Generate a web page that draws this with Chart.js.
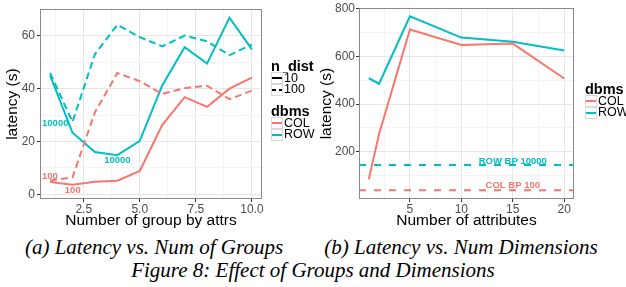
<!DOCTYPE html>
<html>
<head>
<meta charset="utf-8">
<script src="https://cdn.jsdelivr.net/npm/chart.js@4"></script>
<style>
    html, body { margin: 0; padding: 0; background: #fff; }
    #page { position: relative; width: 626px; height: 287px; overflow: hidden; background: #fff; }
    canvas { position: absolute; top: 0; }
    .legend { position: absolute; font-family: "Liberation Sans", Arial, sans-serif; color: #000; }
    .lg-title { position: absolute; font-weight: bold; font-size: 14.5px; line-height: 15px; white-space: nowrap; }
    .lg-row { position: absolute; height: 12px; white-space: nowrap; }
    .lg-row svg { position: absolute; left: 0; top: 0; }
    .lg-row span { position: absolute; left: 13px; top: -1.5px; font-size: 12.5px; line-height: 15px; }
    .caption { position: absolute; font-family: "Liberation Serif", "Times New Roman", serif; font-style: italic;
               font-size: 21px; line-height: 21px; white-space: nowrap; transform: translateX(-50%); color: #000; }
</style>
</head>
<body>
<div id="page">
    <canvas id="groupsChart" width="313" height="232" style="left:0px"></canvas>
    <canvas id="attrsChart" width="313" height="232" style="left:313px"></canvas>

    <div class="legend" id="legendGroups" style="left:271px; top:0px"></div>
    <div class="legend" id="legendAttrs" style="left:585px; top:0px"></div>

    <div class="caption" style="left:154px; top:237px">(a) Latency vs. Num of Groups</div>
    <div class="caption" style="left:461px; top:237px">(b) Latency vs. Num Dimensions</div>
    <div class="caption" style="left:313px; top:260px">Figure 8: Effect of Groups and Dimensions</div>
</div>

<script>
// -------------------------------------------------
//  DATA — panel (a): latency vs. number of group-by attrs
// -------------------------------------------------
const groupCounts = [1, 2, 3, 4, 5, 6, 7, 8, 9, 10];
const rowLat10    = [45.0, 23.3, 16.0, 14.8, 20.2, 41.2, 55.7, 49.5, 66.9, 54.9];
const rowLat100   = [46.0, 27.4, 53.1, 64.2, 59.5, 56.0, 60.1, 57.9, 52.7, 56.7];
const colLat10    = [4.6, 3.6, 4.7, 5.1, 8.8, 26.2, 36.8, 33.1, 40.0, 44.2];
const colLat100   = [5.2, 6.4, 31.1, 45.9, 42.8, 38.0, 40.2, 41.1, 36.0, 39.3];

const groupTicksX = [2.5, 5, 7.5, 10];
const groupTicksY = [0, 20, 40, 60];
const groupMinorX = [1.25, 3.75, 6.25, 8.75];
const groupMinorY = [10, 30, 50];

// text marks drawn inside panel (a)
const groupNoteText = ["10000", "10000", "100", "100"];
const groupNoteDbms = ["ROW", "ROW", "COL", "COL"];
const groupNoteX    = [1.23, 4.0, 0.99, 2.01];
const groupNoteY    = [26.7, 13.0, 6.7, 1.6];

// -------------------------------------------------
//  DATA — panel (b): latency vs. number of attributes
// -------------------------------------------------
const attrCounts  = [1, 2, 5, 10, 15, 20];
const colLatAttrs = [85, 275, 712, 647, 653, 507];
const rowLatAttrs = [508, 485, 767, 678, 661, 624];
const rowBP10000  = 145;
const colBP100    = 40;

const attrTicksX = [5, 10, 15, 20];
const attrTicksY = [200, 400, 600, 800];
const attrMinorX = [2.5, 7.5, 12.5, 17.5];
const attrMinorY = [100, 300, 500, 700];

const attrNoteText = ["ROW BP 10000", "COL BP 100"];
const attrNoteDbms = ["ROW", "COL"];
const attrNoteX    = [15, 15];
const attrNoteY    = [160, 61];

// -------------------------------------------------
//  STİL
// -------------------------------------------------
const COLORS = { COL: "#F8766D", ROW: "#00BFC4" };
const SANS = '"Liberation Sans", Arial, sans-serif';

const groupRange = { xMin: 0.55, xMax: 10.45, yMin: -1.8, yMax: 70.1 };
const attrRange  = { xMin: 0.05, xMax: 20.95, yMin: 3, yMax: 801 };

function toPoints(xs, ys) {
    return xs.map((x, i) => ({ x, y: ys[i] }));
}

// -------------------------------------------------
//  PLUGINS: panel border + text notes
// -------------------------------------------------
const panelBorder = {
    id: "panelBorder",
    afterDraw(chart) {
        const { ctx, chartArea: a } = chart;
        ctx.save();
        ctx.strokeStyle = "#8a8a8a";
        ctx.lineWidth = 1;
        ctx.strokeRect(Math.round(a.left) + 0.5, Math.round(a.top) + 0.5,
                       Math.round(a.right - a.left) - 1, Math.round(a.bottom - a.top) - 1);
        ctx.restore();
    }
};

function notesPlugin(texts, dbms, xs, ys) {
    return {
        id: "notes",
        afterDatasetsDraw(chart) {
            const { ctx, scales } = chart;
            ctx.save();
            ctx.font = "bold 9.5px " + SANS;
            ctx.textAlign = "center";
            ctx.textBaseline = "middle";
            texts.forEach((t, i) => {
                ctx.fillStyle = COLORS[dbms[i]];
                ctx.fillText(t, scales.x.getPixelForValue(xs[i]), scales.y.getPixelForValue(ys[i]));
            });
            ctx.restore();
        }
    };
}

// -------------------------------------------------
//  SCALE HELPERS
// -------------------------------------------------
function makeAxis(opts) {
    const { min, max, major, minor, fmt, title, size, titlePad, tickPad } = opts;
    const isMajor = v => major.includes(v);
    return {
        type: "linear",
        min, max,
        afterBuildTicks: s => {
            s.ticks = [...minor, ...major].sort((a, b) => a - b).map(v => ({ value: v }));
        },
        afterFit: s => {
            if (s.isHorizontal()) s.height = size; else s.width = size;
        },
        ticks: {
            autoSkip: false,
            maxRotation: 0,
            padding: tickPad,
            color: "#4d4d4d",
            font: { family: SANS, size: 12 },
            callback: v => isMajor(v) ? fmt(v) : ""
        },
        grid: {
            color: c => (c.tick && isMajor(c.tick.value)) ? "#e6e6e6" : "#f4f4f4",
            tickColor: c => (c.tick && isMajor(c.tick.value)) ? "#333" : "rgba(0,0,0,0)",
            tickLength: 3,
            lineWidth: 1
        },
        border: { display: false },
        title: {
            display: true,
            text: title,
            color: "#000",
            font: { family: SANS, size: 15.5 },
            padding: titlePad
        }
    };
}

function lineSet(label, points, color, dash) {
    return {
        label,
        data: points,
        borderColor: color,
        backgroundColor: color,
        borderWidth: 2,
        borderDash: dash || [],
        pointRadius: 0,
        tension: 0,
        fill: false
    };
}

// -------------------------------------------------
//  PANEL (a)
// -------------------------------------------------
new Chart(document.getElementById("groupsChart"), {
    type: "line",
    data: {
        datasets: [
            lineSet("COL 100", toPoints(groupCounts, colLat100), COLORS.COL, [7, 4]),
            lineSet("ROW 100", toPoints(groupCounts, rowLat100), COLORS.ROW, [7, 4]),
            lineSet("COL 10",  toPoints(groupCounts, colLat10),  COLORS.COL),
            lineSet("ROW 10",  toPoints(groupCounts, rowLat10),  COLORS.ROW)
        ]
    },
    options: {
        responsive: false,
        animation: false,
        devicePixelRatio: 1,
        layout: { padding: { top: 5, right: 51, left: 0, bottom: 0 } },
        plugins: { legend: { display: false }, tooltip: { enabled: false } },
        scales: {
            x: makeAxis({ min: groupRange.xMin, max: groupRange.xMax, major: groupTicksX, minor: groupMinorX,
                          fmt: v => v.toFixed(1), title: "Number of group by attrs", size: 33,
                          titlePad: { top: 0, bottom: 2 }, tickPad: 0 }),
            y: makeAxis({ min: groupRange.yMin, max: groupRange.yMax, major: groupTicksY, minor: groupMinorY,
                          fmt: v => String(v), title: "latency (s)", size: 40,
                          titlePad: { top: 3, bottom: 0 }, tickPad: 2 })
        }
    },
    plugins: [panelBorder, notesPlugin(groupNoteText, groupNoteDbms, groupNoteX, groupNoteY)]
});

// -------------------------------------------------
//  PANEL (b)
// -------------------------------------------------
new Chart(document.getElementById("attrsChart"), {
    type: "line",
    data: {
        datasets: [
            lineSet("ROW BP", toPoints([attrRange.xMin, attrRange.xMax], [rowBP10000, rowBP10000]), COLORS.ROW, [7, 8]),
            lineSet("COL BP", toPoints([attrRange.xMin, attrRange.xMax], [colBP100, colBP100]), COLORS.COL, [7, 8]),
            lineSet("COL", toPoints(attrCounts, colLatAttrs), COLORS.COL),
            lineSet("ROW", toPoints(attrCounts, rowLatAttrs), COLORS.ROW)
        ]
    },
    options: {
        responsive: false,
        animation: false,
        devicePixelRatio: 1,
        layout: { padding: { top: 6, right: 52, left: 0, bottom: 0 } },
        plugins: { legend: { display: false }, tooltip: { enabled: false } },
        scales: {
            x: makeAxis({ min: attrRange.xMin, max: attrRange.xMax, major: attrTicksX, minor: attrMinorX,
                          fmt: v => String(v), title: "Number of attributes", size: 33,
                          titlePad: { top: 0, bottom: 2 }, tickPad: 0 }),
            y: makeAxis({ min: attrRange.yMin, max: attrRange.yMax, major: attrTicksY, minor: attrMinorY,
                          fmt: v => String(v), title: "latency (s)", size: 46,
                          titlePad: { top: 4.5, bottom: 0 }, tickPad: 1 })
        }
    },
    plugins: [panelBorder, notesPlugin(attrNoteText, attrNoteDbms, attrNoteX, attrNoteY)]
});

// -------------------------------------------------
//  LEGENDS (html)
// -------------------------------------------------
function keySvg(color, dash) {
    const d = dash ? ` stroke-dasharray="${dash}"` : "";
    return `<svg width="12" height="12"><rect x="0.5" y="0.5" width="11" height="11" fill="#fff" stroke="#d9d9d9"/>` +
           `<line x1="1" y1="6" x2="11" y2="6" stroke="${color}" stroke-width="2"${d}/></svg>`;
}

function buildLegend(el, groups) {
    let html = "";
    groups.forEach(g => {
        html += `<div class="lg-title" style="top:${g.top}px">${g.title}</div>`;
        g.rows.forEach((r, i) => {
            html += `<div class="lg-row" style="top:${g.top + 13 + i * 11.5}px">${keySvg(r.color, r.dash)}<span>${r.text}</span></div>`;
        });
    });
    el.innerHTML = html;
}

buildLegend(document.getElementById("legendGroups"), [
    { title: "n_dist", top: 59, rows: [
        { text: "10", color: "#000" },
        { text: "100", color: "#000", dash: "4 3" }
    ] },
    { title: "dbms", top: 104, rows: [
        { text: "COL", color: COLORS.COL },
        { text: "ROW", color: COLORS.ROW }
    ] }
]);

buildLegend(document.getElementById("legendAttrs"), [
    { title: "dbms", top: 82, rows: [
        { text: "COL", color: COLORS.COL },
        { text: "ROW", color: COLORS.ROW }
    ] }
]);
</script>
</body>
</html>
